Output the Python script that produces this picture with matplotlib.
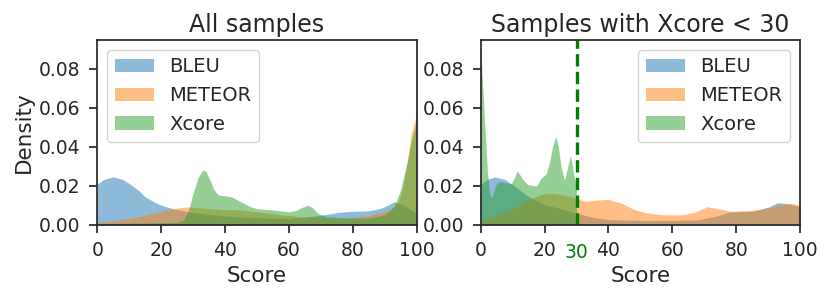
#!/usr/bin/env python3
"""Density of BLEU / METEOR / Xcore scores: all samples vs. Xcore < 30."""
import matplotlib
matplotlib.use("Agg")
import matplotlib.pyplot as plt

# --- values (score, density) ---
all_bleu_x = [0, 2, 5, 8, 10, 13, 15, 18, 20, 23, 26, 30, 35, 40, 45, 50, 55, 60, 65, 70, 75, 79, 85, 89, 93, 96, 100]
all_bleu_y = [0.0208, 0.0232, 0.0245, 0.0232, 0.0211, 0.0175, 0.0143, 0.0115, 0.0100, 0.0085, 0.0074, 0.0062,
              0.0052, 0.0045, 0.0040, 0.0036, 0.0033, 0.0032, 0.0038, 0.0048, 0.0062, 0.0068, 0.0071, 0.0085,
              0.0117, 0.0100, 0.0057]

all_meteor_x = [0, 5, 10, 15, 20, 23, 27, 30, 35, 40, 45, 48, 52, 58, 63, 70, 75, 80, 85, 89, 92, 93.5, 94.6,
                95.7, 96.5, 97.3, 98.3, 99.2, 100]
all_meteor_y = [0.0010, 0.0020, 0.0032, 0.0049, 0.0068, 0.0080, 0.0090, 0.0090, 0.0082, 0.0077, 0.0076, 0.0070,
                0.0062, 0.0050, 0.0042, 0.0036, 0.0033, 0.0035, 0.0048, 0.0062, 0.0080, 0.0105, 0.0130, 0.0194,
                0.0270, 0.0348, 0.0468, 0.0520, 0.0555]

all_xcore_x = [0, 10, 20, 25, 27, 28.5, 30, 31.5, 33, 34, 35.3, 36.5, 38, 40, 42, 45, 48, 50, 55, 60, 62, 64, 66,
               67.5, 69, 72, 78, 85, 90, 93, 95, 97, 98.5, 100]
all_xcore_y = [0.0005, 0.0008, 0.0010, 0.0012, 0.0025, 0.0070, 0.0160, 0.0240, 0.0280, 0.0275, 0.0228, 0.0180,
               0.0152, 0.0148, 0.0143, 0.0117, 0.0092, 0.0082, 0.0075, 0.0066, 0.0072, 0.0088, 0.0100, 0.0085,
               0.0058, 0.0040, 0.0035, 0.0035, 0.0050, 0.0095, 0.0180, 0.0320, 0.0440, 0.0530]

low_bleu_x = [0, 2, 4.5, 7.5, 10, 12, 15, 20, 25, 28, 32, 36, 40, 50, 60, 68, 74, 78, 85, 90, 93, 96, 100]
low_bleu_y = [0.0205, 0.0232, 0.0245, 0.0232, 0.0205, 0.0180, 0.0144, 0.0103, 0.0082, 0.0068, 0.0050, 0.0035,
              0.0026, 0.0022, 0.0021, 0.0025, 0.0045, 0.0066, 0.0068, 0.0090, 0.0113, 0.0108, 0.0092]

low_meteor_x = [0, 5, 9, 14, 18, 21, 25, 29, 32.5, 36, 40, 44, 48, 52, 57, 63, 67, 71, 75, 78.5, 83, 87, 92, 97, 100]
low_meteor_y = [0.0026, 0.0045, 0.0075, 0.0120, 0.0150, 0.0163, 0.0155, 0.0140, 0.0120, 0.0126, 0.0130, 0.0110,
                0.0078, 0.0060, 0.0051, 0.0050, 0.0065, 0.0092, 0.0080, 0.0068, 0.0072, 0.0077, 0.0095, 0.0110,
                0.0100]

low_xcore_x = [0, 0.6, 1.2, 2.1, 2.8, 3.5, 4.9, 6, 7.5, 9.6, 10.5, 11.4, 12.3, 13.2, 14.8, 17.4, 19, 20.5, 21.5,
               22.5, 23.5, 24.3, 25, 26.2, 27, 28.1, 29.2, 30]
low_xcore_y = [0.0890, 0.0720, 0.0530, 0.0270, 0.0154, 0.0140, 0.0210, 0.0222, 0.0216, 0.0210, 0.0240, 0.0277,
               0.0255, 0.0230, 0.0205, 0.0198, 0.0240, 0.0260, 0.0320, 0.0400, 0.0453, 0.0400, 0.0310, 0.0226,
               0.0280, 0.0356, 0.0250, 0.0200]

labels = ["BLEU", "METEOR", "Xcore"]
threshold = 30

plt.rcParams.update({
    "font.family": "DejaVu Sans",
    "text.color": ".15",
    "axes.labelcolor": ".15",
    "axes.edgecolor": ".15",
    "axes.linewidth": 1.25,
    "xtick.color": ".15",
    "ytick.color": ".15",
    "xtick.major.width": 1.25,
    "ytick.major.width": 1.25,
    "xtick.major.size": 5.5,
    "ytick.major.size": 5.5,
    "xtick.major.pad": 6.5,
    "ytick.major.pad": 6.5,
    "xtick.labelsize": 13.5,
    "ytick.labelsize": 13.5,
    "axes.labelsize": 15.5,
    "axes.titlesize": 17,
    "legend.fontsize": 14,
    "legend.edgecolor": "0.8",
})

fig = plt.figure(figsize=(8.3, 3.0), dpi=100)
ax1 = fig.add_axes([0.1172, 0.251, 0.3848, 0.6157])
ax2 = fig.add_axes([0.5792, 0.251, 0.3848, 0.6157])

panels = [
    (ax1, [(all_bleu_x, all_bleu_y), (all_meteor_x, all_meteor_y), (all_xcore_x, all_xcore_y)], "All samples"),
    (ax2, [(low_bleu_x, low_bleu_y), (low_meteor_x, low_meteor_y), (low_xcore_x, low_xcore_y)],
     f"Samples with Xcore < {threshold}"),
]

for ax, series, title in panels:
    for (xs, ys), lab, col in zip(series, labels, ["tab:blue", "tab:orange", "tab:green"]):
        ax.fill_between(xs, ys, color=col, alpha=0.5, lw=0, label=lab)
    ax.set_xlim(0, 100)
    ax.set_ylim(0, 0.0947)
    ax.set_xticks([0, 20, 40, 60, 80, 100])
    ax.set_yticks([0.0, 0.02, 0.04, 0.06, 0.08])
    ax.set_yticklabels(["0.00", "0.02", "0.04", "0.06", "0.08"])
    ax.set_xlabel("Score", labelpad=4)
    ax.set_title(title, pad=6)

ax1.set_ylabel("Density", labelpad=4)
ax1.legend(loc="upper left")

ax2.axvline(threshold, color="g", ls="--", lw=2.4)
ax2.annotate(str(threshold), xy=(threshold, 0), xycoords=("data", "axes fraction"),
             xytext=(0, -13.5), textcoords="offset points", ha="center", va="top",
             color="g", fontsize=13.5)
ax2.legend(loc="upper right")

fig.savefig("out.png", dpi=100)
